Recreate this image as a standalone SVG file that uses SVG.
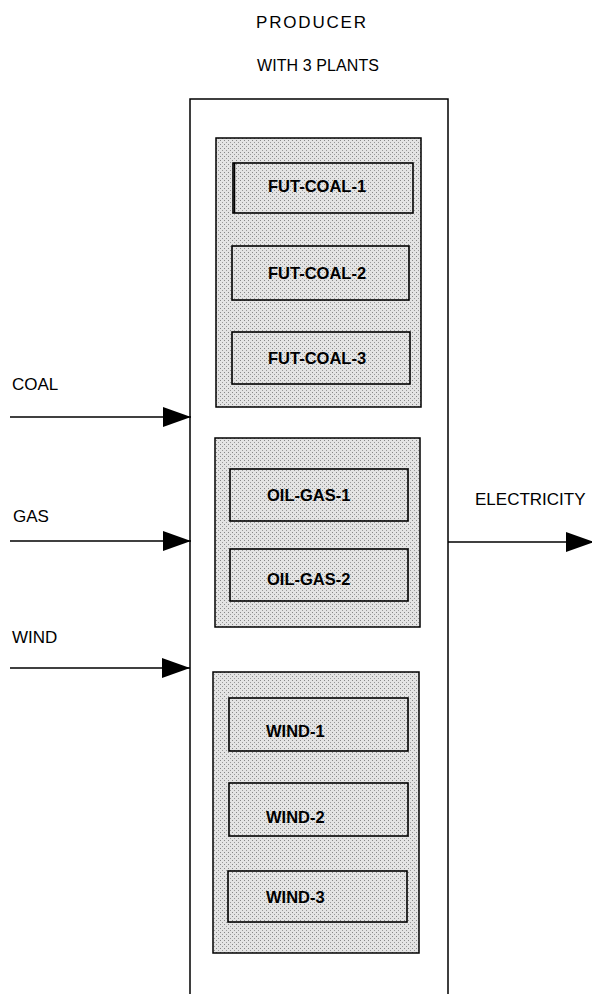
<svg xmlns="http://www.w3.org/2000/svg" width="592" height="994" viewBox="0 0 592 994">
<defs>
<pattern id="stip" width="4" height="4" patternUnits="userSpaceOnUse">
<rect width="4" height="4" fill="#e4e4e4"/>
<rect x="0" y="0" width="1" height="1" fill="#888"/>
<rect x="2" y="2" width="1" height="1" fill="#999"/>
</pattern>
<marker id="arr" viewBox="0 0 28 20" refX="28" refY="10" markerWidth="28" markerHeight="20" markerUnits="userSpaceOnUse" orient="auto">
<path d="M0,0 L28,10 L0,20 Z" fill="#000"/>
</marker>
<style>
.grp{fill:url(#stip);stroke:#000;stroke-width:1.5}
.box{fill:url(#stip);stroke:#000;stroke-width:1.6}
.lbl{font-family:"Liberation Sans",Arial,sans-serif;font-size:16.5px;font-weight:bold;fill:#000}
.txt{font-family:"Liberation Sans",Arial,sans-serif;font-size:17px;fill:#000}
.conn{stroke:#000;stroke-width:1.6;fill:none}
</style>
</defs>
<rect width="592" height="994" fill="#fff"/>
<g id="producer">
<path d="M190,994 V99 H448 V994" fill="none" stroke="#000" stroke-width="1.5"/>
<text class="txt" x="256" y="28" textLength="110" lengthAdjust="spacing">PRODUCER</text>
<text class="txt" x="257" y="71" textLength="122" lengthAdjust="spacing" style="font-size:16px">WITH 3 PLANTS</text>
</g>
<g id="group-coal">
<rect class="grp" x="216" y="138" width="205" height="269"/>
</g>
<g id="group-gas">
<rect class="grp" x="215" y="438" width="205" height="189"/>
</g>
<g id="group-wind">
<rect class="grp" x="213" y="672" width="206" height="281"/>
</g>
<g id="fut-coal-1">
<rect class="box" x="233" y="163" width="180" height="50"/>
<line x1="234.5" y1="163" x2="234.5" y2="213" stroke="#000" stroke-width="1.5"/>
<text class="lbl" x="268" y="192">FUT-COAL-1</text>
</g>
<g id="fut-coal-2">
<rect class="box" x="232" y="246" width="177" height="54"/>
<text class="lbl" x="268" y="279">FUT-COAL-2</text>
</g>
<g id="fut-coal-3">
<rect class="box" x="232" y="332" width="178" height="52"/>
<text class="lbl" x="268" y="364">FUT-COAL-3</text>
</g>
<g id="oil-gas-1">
<rect class="box" x="230" y="469" width="178" height="52"/>
<text class="lbl" x="267" y="501">OIL-GAS-1</text>
</g>
<g id="oil-gas-2">
<rect class="box" x="230" y="549" width="178" height="52"/>
<text class="lbl" x="267" y="585">OIL-GAS-2</text>
</g>
<g id="wind-1">
<rect class="box" x="229" y="698" width="179" height="53"/>
<text class="lbl" x="266" y="737">WIND-1</text>
</g>
<g id="wind-2">
<rect class="box" x="229" y="783" width="179" height="53"/>
<text class="lbl" x="266" y="823">WIND-2</text>
</g>
<g id="wind-3">
<rect class="box" x="228" y="871" width="179" height="51"/>
<text class="lbl" x="266" y="903">WIND-3</text>
</g>
<g id="connectors">
<line class="conn" x1="10" y1="417" x2="191" y2="417" marker-end="url(#arr)"/>
<text class="txt" x="12" y="390">COAL</text>
<line class="conn" x1="10" y1="541" x2="191" y2="541" marker-end="url(#arr)"/>
<text class="txt" x="13" y="522">GAS</text>
<line class="conn" x1="10" y1="668" x2="190" y2="668" marker-end="url(#arr)"/>
<text class="txt" x="12" y="643">WIND</text>
<line class="conn" x1="448" y1="542" x2="594" y2="542" marker-end="url(#arr)"/>
<text class="txt" x="475" y="505">ELECTRICITY</text>
</g>
</svg>
